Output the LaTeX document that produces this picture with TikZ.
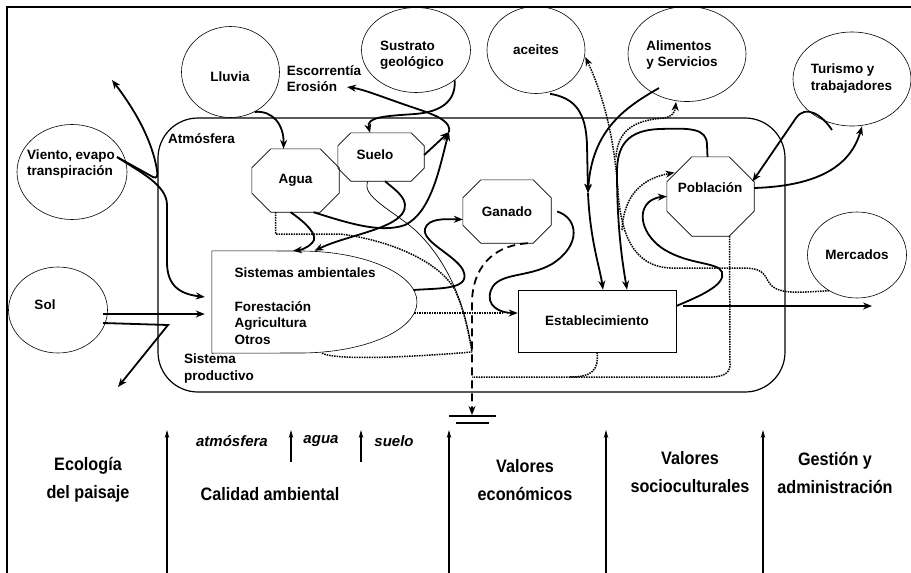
\documentclass[tikz,border=0pt]{standalone}
\usepackage{fontspec}
\setmainfont{Liberation Sans}
\newfontfamily\narrowsf[FakeStretch=0.9]{Liberation Sans}
\usetikzlibrary{arrows.meta,shapes.geometric,positioning}

\tikzset{
  cloud/.style 2 args={draw, ellipse, line width=0.6pt, inner sep=0pt,
    minimum width=#1pt, minimum height=#2pt},
  cell/.style 2 args={rectangle, inner sep=0pt, minimum width=#1pt, minimum height=#2pt},
  rim/.style={line width=0.6pt},
  flow/.style={line width=1.8pt, -{Stealth[length=9pt,width=7pt]}},
  trail/.style={line width=1.5pt, densely dotted},
  trailto/.style={trail, -{Stealth[length=9pt,width=7pt]}},
  vein/.style={line width=0.7pt},
  drain/.style={line width=1.8pt, dash pattern=on 8pt off 5pt, -{Stealth[length=9pt,width=7pt]}},
  rise/.style={line width=1.1pt, -{Stealth[length=8pt,width=4.5pt]}},
  big/.style={align=center, font=\narrowsf\bfseries\fontsize{18}{28}\selectfont},
  slant/.style={font=\bfseries\itshape\fontsize{15}{17}\selectfont},
}
\newcommand\octo[2]{\draw[rim] ([xshift=#2pt]#1.north west) -- ([xshift=-#2pt]#1.north east)
  -- ([yshift=-#2pt]#1.north east) -- ([yshift=#2pt]#1.south east)
  -- ([xshift=-#2pt]#1.south east) -- ([xshift=#2pt]#1.south west)
  -- ([yshift=#2pt]#1.south west) -- ([yshift=-#2pt]#1.north west) -- cycle;}

\begin{document}
\begin{tikzpicture}[x=1pt, y=-1pt, every node/.style={font=\bfseries\fontsize{13.5}{16.5}\selectfont}]
\useasboundingbox (0,0) rectangle (911,573);
\fill[white] (0,0) rectangle (911,573);
\draw[line width=1.6pt] (7,573) -- (7,7) -- (911,7);
\node[draw, line width=1.2pt, rounded corners=40pt, minimum width=627pt, minimum height=274pt] (sys) at (471.5,255) {};

\node[cloud={98}{91}] (lluvia) at (230.5,72) {};
\node (lluviat) at (230,77) {Lluvia};
\node[cloud={109}{85}] (sustrato) at (416,50) {};
\node[align=left] (sustt) at (412,55) {Sustrato\\geológico};
\node[cloud={98}{87}] (aceites) at (536,50) {aceites};
\node[cloud={118}{95}] (alim) at (687,54) {};
\node[align=left] (alimt) at (682,55) {Alimentos\\y Servicios};
\node[cloud={118}{94}] (turismo) at (852,79) {};
\node[align=left] (turt) at (851.5,78.5) {Turismo y\\trabajadores};
\node[cloud={110}{95}] (viento) at (72,172) {};
\node[align=left] (vientot) at (71,164) {Viento, evapo\\transpiración};
\node[cloud={99}{86}] (sol) at (58,310) {};
\node (solt) at (45,305) {Sol};
\node[cloud={99}{86}] (mercados) at (857,255) {Mercados};

\node[cell={87}{63}] (agua) at (295.5,180.5) {Agua};
\octo{agua}{19}
\node[cell={86}{48}] (suelo) at (381,157) {};
\octo{suelo}{13}
\node (suelot) at (375,155) {Suelo};
\node[cell={88}{63}] (ganado) at (507,211.5) {Ganado};
\octo{ganado}{18}
\node[cell={87}{79}] (pob) at (710.5,196.5) {};
\octo{pob}{25}
\node (pobt) at (710,188) {Población};
\node[draw, line width=0.6pt, cell={158}{62}] (est) at (597,321) {Establecimiento};

\node[cell={205}{102}] (sa) at (314.5,302) {};
\draw[rim] (sa.north west) -- (300,251) arc[start angle=-90, end angle=90, x radius=117, y radius=51] -- (sa.south west) -- cycle;
\node[align=left, anchor=west] (sat) at (231,306) {Sistemas ambientales\\[17pt]Forestación\\Agricultura\\Otros};

\node[align=left] (eros) at (324,78.5) {Escorrentía\\Erosión};
\node (atm) at (201.5,139) {Atmósfera};
\node[align=left] (sprod) at (219,368.5) {Sistema\\productivo};

\coordinate (hub) at (449,132);
\coordinate (knot) at (588,193);
\coordinate (sink) at (472,352);
\coordinate (ground) at (472,415);
\coordinate (eroend) at (347,87);
\coordinate (upout) at (112,80);
\coordinate (sunout) at (118,387);
\coordinate (mkt) at (872,306);
\coordinate (fork1) at (616,157);
\coordinate (fork2) at (622,230);

\draw[flow] (lluvia.-59) .. controls (272,110) and (284,124) .. ([xshift=-12pt]agua.north);
\draw[flow] (sustrato.-38) .. controls (456,102) and (440,112) .. (415,114) .. controls (385,116) and (366,117) .. ([xshift=-11pt]suelo.north);
\draw[flow] (hub) .. controls (452,118) and (425,112) .. (400,103) .. controls (380,96) and (362,89) .. (eroend);
\draw[flow] ([yshift=2pt]suelo.east) -- (hub);
\draw[flow] ([xshift=18pt]agua.south) .. controls (345,222) and (380,234) .. (405,225) .. controls (432,212) and (440,165) .. (hub);
\draw[flow] ([xshift=-5pt]agua.south) .. controls (305,222) and (320,236) .. (312,243) .. controls (306,249) and (300,250) .. ([xshift=-21.5pt]sa.north);
\draw[flow] ([xshift=4pt]suelo.south) .. controls (395,190) and (412,200) .. (402,214) .. controls (390,230) and (345,236) .. (sa.north);
\draw[vein] ([xshift=-13pt]suelo.south) .. controls (360,196) and (395,212) .. (415,230) .. controls (445,258) and (465,300) .. (sink);
\draw[trail] ([xshift=-20pt]agua.south) -- (275.5,234) -- (340,234) .. controls (390,240) and (440,262) .. (455,290) .. controls (464,310) and (468,330) .. (sink);
\draw[trail] ([xshift=7.5pt]sa.south) .. controls (335,360) and (400,358) .. (sink);
\draw[trail] ([xshift=99.5pt,yshift=-11pt]sa.center) -- ([xshift=-15pt,yshift=8pt]est.west);
\draw[flow] ([xshift=99pt,yshift=12pt]sa.center) .. controls (440,288) and (472,290) .. (463,270) .. controls (455,255) and (422,242) .. (425,229) .. controls (428,218) and (445,219) .. ([yshift=-8pt]ganado.west);
\draw[flow] ([xshift=6pt]ganado.east) .. controls (578,218) and (582,245) .. (552,264) .. controls (528,278) and (498,272) .. (491,290) .. controls (485,306) and (500,313) .. ([yshift=8pt]est.west);
\draw[drain] ([xshift=21pt]ganado.south) .. controls (498,245) and (474,262) .. (472,300) -- (ground);
\draw[line width=1.2pt] ([xshift=-23pt,yshift=-1pt]ground) -- ([xshift=24pt,yshift=-1pt]ground)
  ([xshift=-16pt,yshift=-8pt]ground) -- ([xshift=17pt,yshift=-8pt]ground);
\draw[trail] ([xshift=19pt]pob.south) -- (730,365) .. controls (730,374) and (722,378) .. (703,377) -- (472,377);
\draw[trail] (est.south) .. controls (599,370) and (592,377) .. (570,377);

\draw[flow] ([xshift=14pt]aceites.south) .. controls (575,98) and (586,112) .. (587,145) -- (knot);
\draw[flow] (alim.center) ++(-28,34) .. controls (628,106) and (592,128) .. (knot);
\draw[flow] (knot) .. controls (590,240) and (600,268) .. ([xshift=6pt]est.north);
\draw[flow] ([xshift=-3pt]pob.north) -- (707,145) .. controls (707,128) and (690,128) .. (660,129) .. controls (628,130) and (617,145) .. (617,172) .. controls (617,230) and (623,266) .. ([xshift=30pt]est.north);
\draw[trailto] (mercados.-128) .. controls (800,292) and (776,296) .. (768,281) .. controls (762,268) and (755,268) .. (735,268) -- (670,268) .. controls (632,266) and (621,232) .. (618,192) .. controls (614,130) and (600,88) .. ([yshift=-7pt]aceites.east);
\draw[trailto] (fork1) .. controls (618,126) and (640,120) .. (664,118) .. controls (672,117) and (675,112) .. ([xshift=-11pt]alim.south);
\draw[trailto] (fork2) .. controls (624,192) and (645,178) .. ([xshift=-36pt,yshift=24pt]pob.center);
\draw[flow] ([yshift=15pt]est.east) .. controls (700,296) and (726,285) .. (722,272) .. controls (718,262) and (690,265) .. (665,250) .. controls (645,238) and (637,216) .. (647,204) .. controls (652,198) and (660,197) .. (pob.west);
\draw[flow] ([xshift=7pt,yshift=15pt]est.east) -- (mkt);
\draw[flow] ([yshift=8.5pt]pob.east) .. controls (815,186) and (850,168) .. ([xshift=10pt]turismo.south);
\draw[flow] (turismo.center) ++(-20,51) .. controls (822,115) and (806,104) .. (796,118) -- ([xshift=42pt,yshift=15pt]pob.center);

\draw[flow] (viento.center) ++(45,-15) -- (153,177) .. controls (157,179) and (158,176) .. (157,170) .. controls (152,140) and (135,110) .. (upout);
\draw[flow] (viento.center) ++(45,-15) .. controls (140,172) and (167,185) .. (167,205) -- (167,262) .. controls (167,286) and (180,294) .. ([xshift=-7pt,yshift=5pt]sa.west);
\draw[flow] (sol.center) ++(45,4) -- ([xshift=-7pt,yshift=-12pt]sa.west);
\draw[flow] (sol.center) ++(45,13) -- (168,325) -- (sunout);

\foreach \x in {167,449,606,763} \draw[rise] (\x,573) -- (\x,430);
\foreach \x in {291,361} \draw[rise] (\x,462) -- (\x,430);

\node[big] (eco) at (88,480) {Ecología\\del paisaje};
\node[slant] (qatm) at (232,441) {atmósfera};
\node[slant] (qagua) at (321,441) {agua};
\node[slant] (qsuelo) at (394,441) {suelo};
\node[big] (cal) at (270,494) {Calidad ambiental};
\node[big] (valec) at (525,480) {Valores\\económicos};
\node[big] (valsc) at (690,472.5) {Valores\\socioculturales};
\node[big] (gest) at (835,472.5) {Gestión y\\administración};
\end{tikzpicture}
\end{document}
